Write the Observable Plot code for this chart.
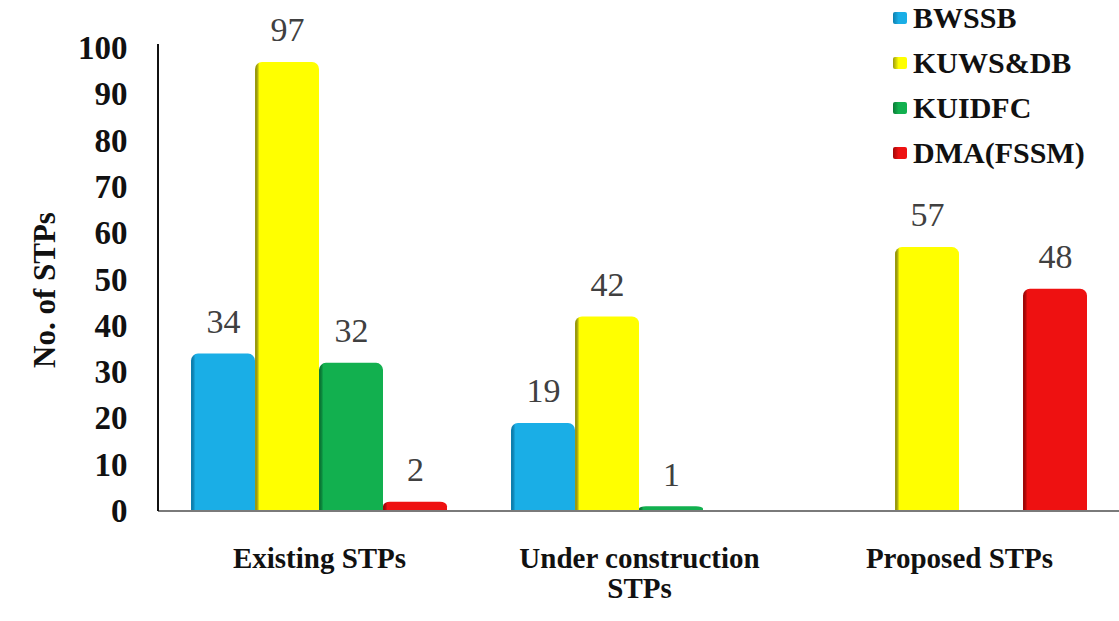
<!DOCTYPE html>
<html>
<head>
<meta charset="utf-8">
<script src="https://cdn.jsdelivr.net/npm/d3@7"></script>
<script src="https://cdn.jsdelivr.net/npm/@observablehq/plot@0.6"></script>
<style>
  html, body { margin: 0; padding: 0; background: #fff; }
  #wrap { position: relative; width: 1119px; height: 621px; overflow: hidden; }
  #wrap svg { position: absolute; left: 0; top: 0; }
  .serif, #wrap svg text { font-family: "Liberation Serif", "Times New Roman", Times, "DejaVu Serif", serif !important; }
  g[aria-label="y-axis tick label"] text { font-weight: bold; font-size: 33px; fill: #111; }
  g[aria-label="fx-axis tick label"] text { font-weight: bold; font-size: 29px; fill: #111; }
  g[aria-label="text"] text { font-weight: normal; font-size: 34px; fill: #404040; }
  #ytitle { position: absolute; left: 45px; top: 290px; transform: translate(-50%, -50%) rotate(-90deg);
    font-weight: bold; font-size: 31px; color: #111; white-space: nowrap; }
  #legend { position: absolute; left: 893px; top: -5px; font-weight: bold; font-size: 30px; color: #111; }
  #legend .item { display: flex; align-items: center; height: 45px; }
  #legend .sw { width: 14px; height: 12px; margin-right: 6px; border-radius: 2px; }
</style>
</head>
<body>
<div id="wrap"></div>
<script>
// ---- data ----
const categories = ["Existing STPs", "Under construction STPs", "Proposed STPs"];
const categoryLabels = ["Existing STPs", "Under construction\nSTPs", "Proposed STPs"];
const series = ["BWSSB", "KUWS&DB", "KUIDFC", "DMA(FSSM)"];
const bwssb = [34, 19, null];
const kuwsdb = [97, 42, 57];
const kuidfc = [32, 1, null];
const dmaFssm = [2, null, 48];
const yTicks = [0, 10, 20, 30, 40, 50, 60, 70, 80, 90, 100];
const colors = ["#1aaee6", "#ffff00", "#12b04f", "#ee1111"];
const darkColors = ["#0e7fae", "#9a9a10", "#0a7a36", "#a00808"];
const yTitle = "No. of STPs";

const seriesValues = [bwssb, kuwsdb, kuidfc, dmaFssm];
const table = [];
categories.forEach((c, ci) => {
  series.forEach((s, si) => {
    const v = seriesValues[si][ci];
    if (v != null) table.push({category: c, series: s, value: v});
  });
});

const gradIds = series.map((s, i) => `grad${i}`);

const plot = Plot.plot({
  width: 1119,
  height: 621,
  marginLeft: 158,
  marginRight: 0,
  marginTop: 48,
  marginBottom: 110,
  style: {background: "transparent", overflow: "visible", fontFamily: "'Liberation Serif', 'Times New Roman', serif"},
  fx: {domain: categories, paddingInner: 0.2, paddingOuter: 0.1, label: null},
  x: {domain: series, padding: 0, axis: null},
  y: {domain: [0, 100], label: null},
  color: {domain: series, range: gradIds.map(id => `url(#${id})`)},
  marks: [
    Plot.axisY({ticks: yTicks, tickSize: 0, tickPadding: 64, label: null}),
    Plot.axisFx({anchor: "bottom", tickSize: 0, tickPadding: 35, lineHeight: 1.03,
      tickFormat: d => categoryLabels[categories.indexOf(d)], label: null}),
    Plot.barY(table, {fx: "category", x: "series", y: "value", fill: "series", rx: 7}),
    Plot.barY(table, {fx: "category", x: "series", y1: 0, y2: d => d.value / 2, fill: "series"}),
    Plot.text(table, {fx: "category", x: "series", y: "value", text: d => String(d.value), dy: -32,
      fill: "#404040", fontSize: 34})
  ]
});

// gradients for the cylinder look
const ns = "http://www.w3.org/2000/svg";
const defs = document.createElementNS(ns, "defs");
series.forEach((s, i) => {
  const g = document.createElementNS(ns, "linearGradient");
  g.setAttribute("id", gradIds[i]);
  g.setAttribute("x1", "0"); g.setAttribute("x2", "1"); g.setAttribute("y1", "0"); g.setAttribute("y2", "0");
  [[0, darkColors[i]], [0.03, darkColors[i]], [0.07, colors[i]], [0.9, colors[i]], [1, colors[i]]].forEach(([o, c]) => {
    const st = document.createElementNS(ns, "stop");
    st.setAttribute("offset", o);
    st.setAttribute("stop-color", c);
    g.appendChild(st);
  });
  defs.appendChild(g);
});
plot.insertBefore(defs, plot.firstChild);

// axis line and baseline drawn through the plot's scales
const ys = plot.scale("y");
const y0 = ys.apply(0), yTop = ys.apply(100);
const base = document.createElementNS(ns, "line");
base.setAttribute("x1", 158); base.setAttribute("x2", 1119);
base.setAttribute("y1", y0); base.setAttribute("y2", y0);
base.setAttribute("stroke", "#7a7a7a"); base.setAttribute("stroke-width", 2);
plot.appendChild(base);
const axl = document.createElementNS(ns, "line");
axl.setAttribute("x1", 158); axl.setAttribute("x2", 158);
axl.setAttribute("y1", yTop - 4); axl.setAttribute("y2", y0);
axl.setAttribute("stroke", "#111"); axl.setAttribute("stroke-width", 2);
plot.appendChild(axl);

const wrap = document.getElementById("wrap");
wrap.appendChild(plot);

// y title
const yt = document.createElement("div");
yt.id = "ytitle";
yt.className = "serif";
yt.textContent = yTitle;
wrap.appendChild(yt);

// legend
const legend = document.createElement("div");
legend.id = "legend";
legend.className = "serif";
series.forEach((s, i) => {
  const item = document.createElement("div");
  item.className = "item";
  const sw = document.createElement("div");
  sw.className = "sw";
  sw.style.background = `linear-gradient(90deg, ${darkColors[i]}, ${colors[i]} 40%, ${colors[i]})`;
  const t = document.createElement("span");
  t.textContent = s;
  item.appendChild(sw); item.appendChild(t);
  legend.appendChild(item);
});
wrap.appendChild(legend);
</script>
</body>
</html>
